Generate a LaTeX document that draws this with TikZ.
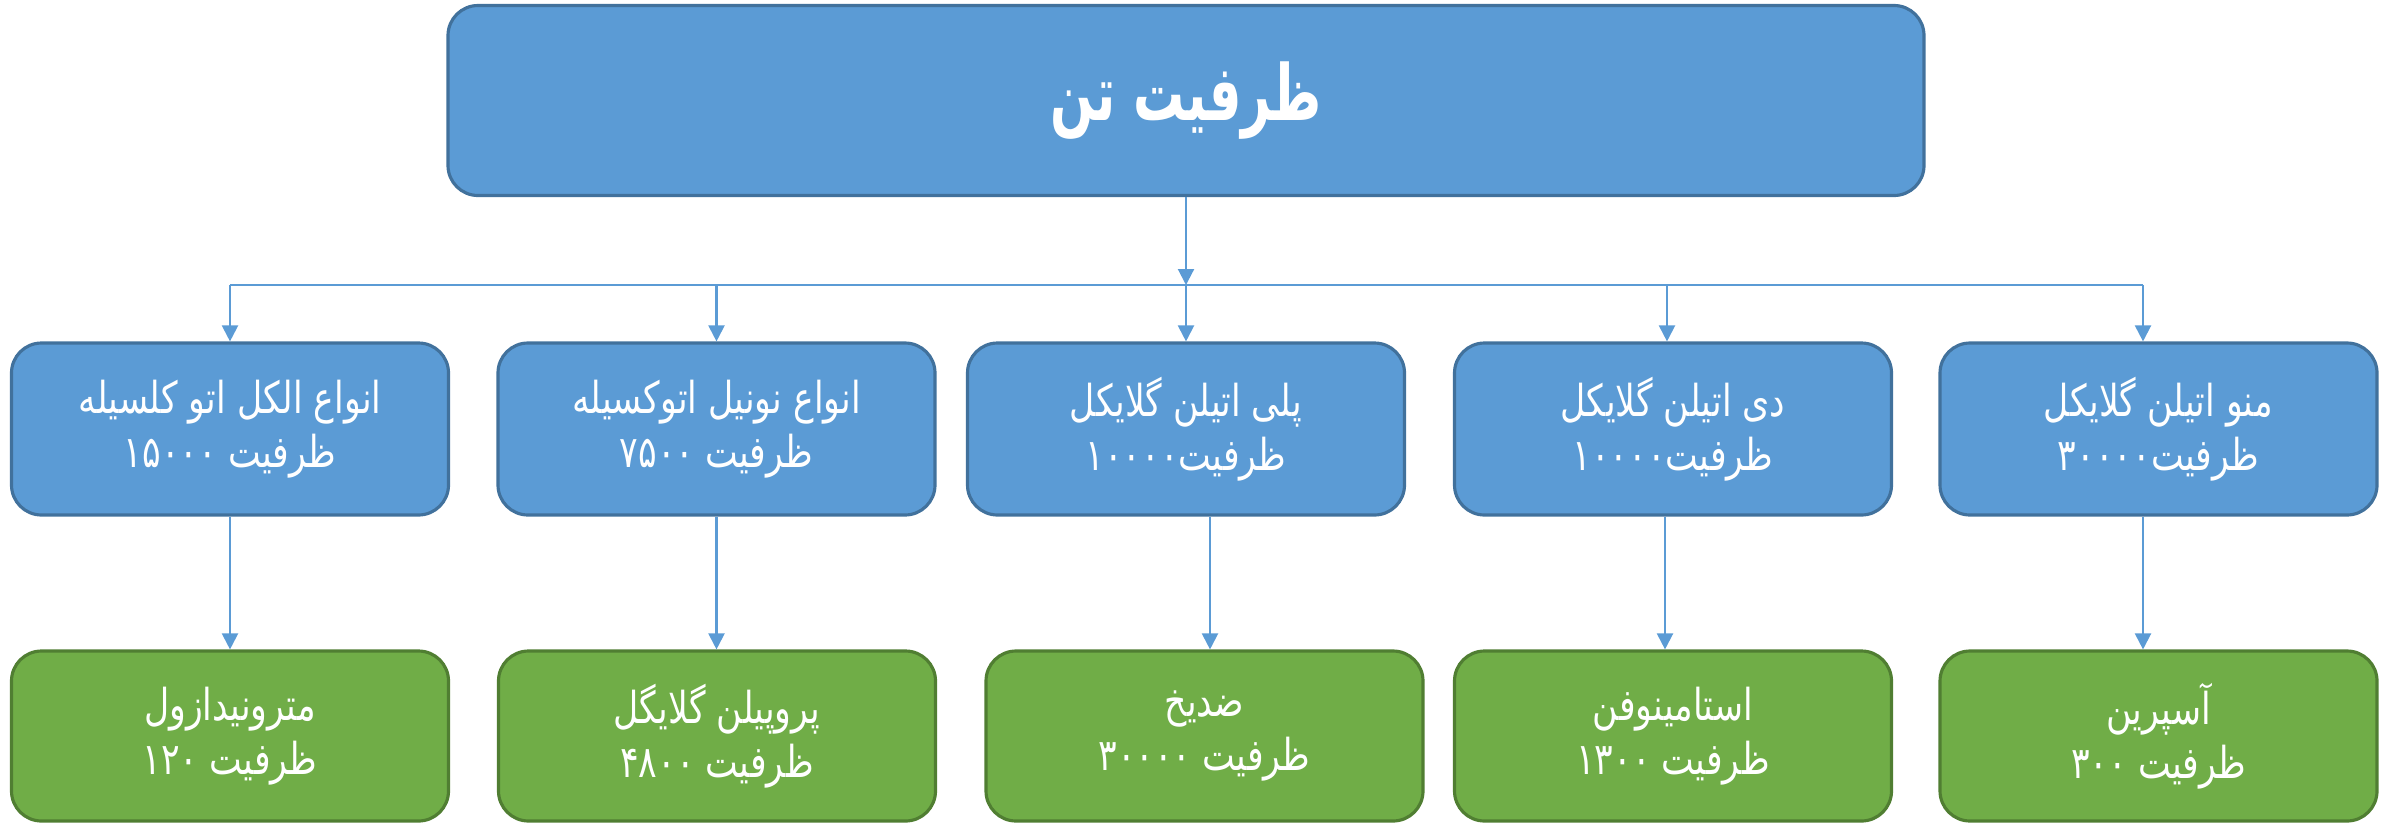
\documentclass[tikz,border=0pt]{standalone}
\usepackage{fontspec}
\newfontfamily\arabicfont[Script=Arabic,FakeStretch=0.79]{DejaVu Sans}
\newfontfamily\titlefont[Script=Arabic,FakeStretch=0.66]{DejaVu Sans Bold}
\TeXXeTstate=1
\usetikzlibrary{arrows.meta}
\definecolor{boxblue}{HTML}{5B9BD5}
\definecolor{edgeblue}{HTML}{41719C}
\definecolor{boxgreen}{HTML}{70AD47}
\definecolor{edgegreen}{HTML}{507E32}

\begin{document}
\begin{tikzpicture}
[topdecorate/.style={shape=rectangle,rounded corners=0.3cm,draw=edgeblue,fill=boxblue,line width=0.9pt,%
  minimum width=14.76cm,minimum height=1.9cm,inner sep=0pt,text=white,%
  font=\titlefont\fontsize{22}{26}\selectfont},%
 middecorate/.style={shape=rectangle,rounded corners=0.3cm,draw=edgeblue,fill=boxblue,line width=0.9pt,%
  minimum width=4.37cm,minimum height=1.72cm,inner sep=0pt,text=white,align=center,%
  font=\arabicfont\fontsize{12.5}{15.5}\selectfont},%
 lowdecorate/.style={middecorate,draw=edgegreen,fill=boxgreen,minimum height=1.70cm},%
 linedecorate/.style={draw=boxblue,line width=0.6pt},%
 arrowdecorate/.style={linedecorate,-{Triangle[width=0.16cm,length=0.16cm]}}]
\useasboundingbox (0,0) rectangle (23.9,-8.25);
%% title box
\node (top) at (11.86,-1.005) [topdecorate] {\beginR ظرفیت تن\endR};
%% middle row
\foreach \nodename/\x/\rowtext/\captext in {%
  m1/2.30/انواع الکل اتو کلسیله/ظرفیت ۱۵۰۰۰,
  m2/7.165/انواع نونیل اتوکسیله/ظرفیت ۷۵۰۰,
  m3/11.86/پلی اتیلن گلایکل/ظرفیت۱۰۰۰۰,
  m4/16.73/دی اتیلن گلایکل/ظرفیت۱۰۰۰۰,
  m5/21.585/منو اتیلن گلایکل/ظرفیت۳۰۰۰۰} {
  \node (\nodename) at (\x,-4.29) [middecorate] {\beginR\rowtext\endR\\\beginR\captext\endR};
}
%% bottom row
\foreach \nodename/\x/\rowtext/\captext in {%
  b1/2.30/مترونیدازول/ظرفیت ۱۲۰,
  b2/7.17/پروپیلن گلایگل/ظرفیت ۴۸۰۰,
  b3/12.045/ضدیخ/ظرفیت ۳۰۰۰۰,
  b4/16.73/استامینوفن/ظرفیت ۱۳۰۰,
  b5/21.585/آسپرین/ظرفیت ۳۰۰} {
  \node (\nodename) at (\x,-7.36) [lowdecorate] {\beginR\rowtext\endR\\\beginR\captext\endR};
}
%% bus line and arrows
\coordinate (bus) at (11.86,-2.85);
\draw[arrowdecorate] (top) -- (bus);
\draw[linedecorate] (m1.north |- bus) -- ([xshift=-0.155cm]m5.north |- bus);
\foreach \i/\dx in {1/0, 2/0, 3/0, 4/-0.06, 5/-0.155} {
  \draw[arrowdecorate] ([xshift=\dx cm]m\i.north |- bus) -- ([xshift=\dx cm]m\i.north);
}
\foreach \i/\dx in {1/0, 2/0, 3/0.24, 4/-0.08, 5/-0.155} {
  \draw[arrowdecorate] ([xshift=\dx cm]m\i.south) -- ([xshift=\dx cm]m\i.south |- b\i.north);
}
\end{tikzpicture}
\end{document}
